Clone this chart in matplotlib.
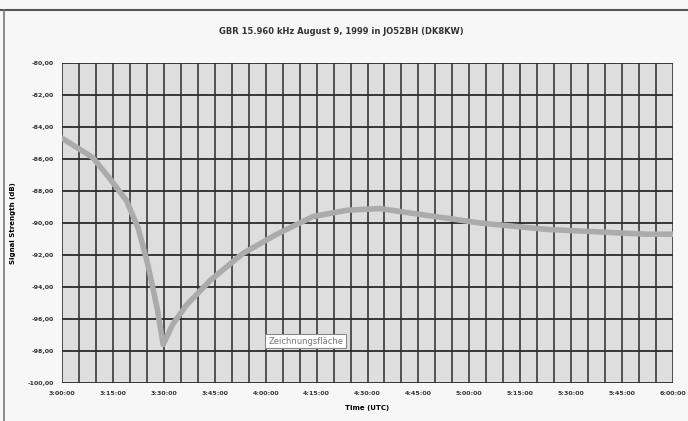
import matplotlib.pyplot as plt
from matplotlib.lines import Line2D

# minutes after 3:00 UTC and signal strength in dB
minutes = [0, 9, 14, 19, 22.4, 25.3, 28, 29.8, 32.7, 36.8, 43.6, 53.3, 63.3, 73.9,
           84, 93.7, 103.4, 113.4, 123.1, 132.9, 142.9, 152.6, 162.3, 172.3, 180]
strength = [-84.7, -85.9, -87.2, -88.6, -90.3, -92.6, -95.3, -97.6, -96.3, -95.1,
            -93.6, -91.9, -90.7, -89.6, -89.2, -89.1, -89.4, -89.7, -90.0, -90.2,
            -90.4, -90.5, -90.6, -90.7, -90.7]

x_tick_labels = ['3:00:00', '3:15:00', '3:30:00', '3:45:00', '4:00:00', '4:15:00',
                 '4:30:00', '4:45:00', '5:00:00', '5:15:00', '5:30:00', '5:45:00', '6:00:00']
y_ticks = [-80, -82, -84, -86, -88, -90, -92, -94, -96, -98, -100]

fig = plt.figure(figsize=(6.88, 4.21), dpi=100)
fig.patch.set_facecolor('#f7f7f7')
ax = fig.add_axes([62/688, 1 - 383/421, 611/688, 320/421])
ax.set_facecolor('#dedede')

# vertical grid every 5 minutes, horizontal at each tick
for m in range(0, 181, 5):
    ax.axvline(m, color='#2a2a2a', lw=1.1, zorder=1)
for v in y_ticks:
    ax.axhline(v, color='#2a2a2a', lw=1.3, zorder=1)

ax.plot(minutes, strength, color='#ababab', lw=4.0, solid_capstyle='round', zorder=3)

ax.set_xlim(0, 180)
ax.set_ylim(-100, -80)
ax.set_xticks(range(0, 181, 15))
ax.set_xticklabels(x_tick_labels, fontsize=4.5, fontweight='bold', color='#333333')
ax.set_yticks(y_ticks)
ax.yaxis.set_major_formatter(plt.FuncFormatter(lambda v, p: ('%.2f' % v).replace('.', ',')))
for t in ax.get_yticklabels():
    t.set_fontsize(4.5)
    t.set_fontweight('bold')
    t.set_color('#333333')
ax.tick_params(length=0, pad=6)
for s in ax.spines.values():
    s.set_visible(False)

ax.set_xlabel('Time (UTC)', fontsize=5, fontweight='bold', labelpad=6)
ax.set_ylabel('Signal Strength (dB)', fontsize=5, fontweight='bold', labelpad=8)

fig.text(0.496, 0.924, 'GBR 15.960 kHz August 9, 1999 in JO52BH (DK8KW)',
         fontsize=6, fontweight='bold', ha='center', va='center', color='#333333')

ax.text(0.399, 0.131, 'Zeichnungsfläche', transform=ax.transAxes, fontsize=6,
        ha='center', va='center', color='#777777', zorder=5,
        bbox=dict(boxstyle='square,pad=0.35', fc='white', ec='#888888', lw=0.8))

# window frame lines
fig.add_artist(Line2D([0, 1], [1 - 10/421] * 2, color='#555555', lw=1.5))
fig.add_artist(Line2D([4/688] * 2, [0, 1 - 10/421], color='#777777', lw=1.2))

fig.savefig('out.png', dpi=100, facecolor=fig.get_facecolor())
